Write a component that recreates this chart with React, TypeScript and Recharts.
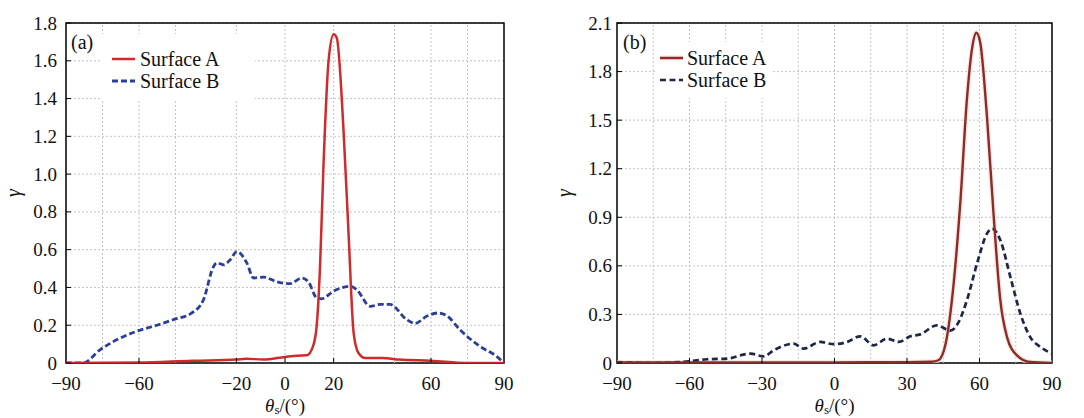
import React from "react";
import { LineChart, Line, XAxis, YAxis, CartesianGrid, ReferenceLine, ReferenceArea, Legend, Label } from "recharts";

// ---------- Panel (a) data ----------
const thetaA_a = [-90, -60, -38, -20, -16, -9, 0, 5, 9, 11.5, 13, 14.4, 15.8, 17.9, 20, 21.3, 24.1, 26.1, 28.2, 30.2, 33, 40, 47, 60, 75, 90];
const gammaA_a = [0, 0.002, 0.012, 0.018, 0.023, 0.018, 0.032, 0.039, 0.041, 0.088, 0.194, 0.51, 1.04, 1.6, 1.74, 1.72, 1.22, 0.69, 0.16, 0.053, 0.026, 0.026, 0.018, 0.012, 0, 0];
const thetaB_a = [-90, -83, -76, -61, -52.6, -45.8, -38.3, -33.5, -29.4, -28, -25.3, -22.5, -19.8, -15.7, -12.9, -8.8, -3.4, 2.1, 6.9, 9.6, 13.1, 15.1, 19.9, 26.8, 29.5, 35, 39.1, 43.2, 50, 53.5, 58.2, 63, 66.5, 71.9, 80.1, 87, 90];
const gammaB_a = [0, 0, 0.07, 0.168, 0.2, 0.23, 0.265, 0.335, 0.51, 0.53, 0.52, 0.547, 0.59, 0.53, 0.45, 0.455, 0.43, 0.42, 0.45, 0.43, 0.344, 0.34, 0.38, 0.406, 0.388, 0.3, 0.31, 0.31, 0.23, 0.21, 0.247, 0.265, 0.25, 0.176, 0.088, 0.035, 0];
const xTicks_a = [-90, -60, -20, 0, 20, 60, 90];
const xGrid_a = [-75, -60, -45, -20, 0, 20, 45, 60, 75];
const yTicks_a = [0, 0.2, 0.4, 0.6, 0.8, 1.0, 1.2, 1.4, 1.6, 1.8];

// ---------- Panel (b) data ----------
const thetaA_b = [-90, -30, 0, 30, 40, 43, 46, 49.3, 52.1, 54.8, 56.9, 58.7, 60.3, 63.1, 65.9, 68.6, 71.4, 75.5, 81, 90];
const gammaA_b = [0.003, 0.003, 0.004, 0.005, 0.008, 0.017, 0.12, 0.49, 1.0, 1.63, 1.94, 2.04, 1.98, 1.52, 0.9, 0.39, 0.16, 0.047, 0.006, 0];
const thetaB_b = [-90, -75.5, -60.3, -52.8, -44.5, -34.8, -29.3, -25.2, -19.7, -16.9, -12.8, -5.9, -0.3, 5.2, 10.7, 16.2, 21.7, 26.6, 31.4, 35.5, 42.4, 47.9, 51.4, 54.8, 59, 63.1, 65.2, 68.6, 72.8, 76.9, 81, 85.2, 90];
const gammaB_b = [0.006, 0, 0.01, 0.023, 0.027, 0.058, 0.041, 0.078, 0.113, 0.12, 0.089, 0.13, 0.116, 0.13, 0.165, 0.109, 0.15, 0.13, 0.165, 0.177, 0.233, 0.2, 0.254, 0.388, 0.615, 0.8, 0.83, 0.76, 0.53, 0.305, 0.16, 0.099, 0.058];
const xTicks_b = [-90, -60, -30, 0, 30, 60, 90];
const xGrid_b = [-75, -60, -45, -30, -15, 0, 15, 30, 45, 60, 75];
const yTicks_b = [0, 0.3, 0.6, 0.9, 1.2, 1.5, 1.8, 2.1];

const seriesNames = ["Surface A", "Surface B"];
const panelLabels = ["(a)", "(b)"];

const FONT = "'Liberation Serif', 'Times New Roman', 'DejaVu Serif', serif";
const zip = (xs: number[], ys: number[]) => xs.map((t, i) => ({ t, g: ys[i] }));
const fmtX = (v: number) => (v < 0 ? "\u2212" + Math.abs(v) : String(v));
const fmtY = (v: number) => (v === 0 ? "0" : v.toFixed(1));

type PanelProps = {
  width: number;
  height: number;
  plotLeft: number;
  plotRight: number;
  plotTop: number;
  plotBottom: number;
  yMax: number;
  yTicks: number[];
  xTicks: number[];
  xGrid: number[];
  a: { t: number; g: number }[];
  b: { t: number; g: number }[];
  colorA: string;
  colorB: string;
  halo?: string;
  widthA: number;
  widthB: number;
  dashB: string;
  label: string;
  yLabelGap: number;
  labelPos: { x: number; y: number };
  box: { x: number; y: number; w: number; h: number };
  sample: { x: number; y1: number; y2: number; textX: number };
};

const txtStyle = { fontFamily: FONT } as React.CSSProperties;

const Panel = (p: PanelProps) => {
  const Y_AXIS_W = 50;
  const X_AXIS_H = 30;
  const XTick = (props: any) => {
    const { x, payload } = props;
    const ay = p.plotBottom;
    const show = payload.value !== -90 && payload.value !== 90;
    return (
      <g>
        {show && <line x1={x} x2={x} y1={ay} y2={ay - 5} stroke="#000" strokeWidth={1} />}
        <text x={x} y={ay + 27} textAnchor="middle" style={txtStyle} fontSize={19} fill="#111">
          {fmtX(payload.value)}
        </text>
      </g>
    );
  };
  const YTick = (props: any) => {
    const { y, payload } = props;
    const ax = p.plotLeft;
    return (
      <g>
        <line x1={ax} x2={ax + 5} y1={y} y2={y} stroke="#000" strokeWidth={1} />
        <text x={ax - p.yLabelGap} y={y + 6.5} textAnchor="end" style={txtStyle} fontSize={19} fill="#111">
          {fmtY(payload.value)}
        </text>
      </g>
    );
  };
  const XTitle = (props: any) => {
    const vb = props.viewBox;
    const cx = vb.x + vb.width / 2;
    return (
      <text x={cx} y={p.plotBottom + 49} textAnchor="middle" style={txtStyle} fontSize={19} fill="#111">
        <tspan fontStyle="italic">θ</tspan>
        <tspan fontSize={13} dy={2}>s</tspan>
        <tspan dy={-2}>/(°)</tspan>
      </text>
    );
  };
  const YTitle = () => (
    <text
      x={p.plotLeft - 53}
      y={(p.plotTop + p.plotBottom) / 2}
      textAnchor="middle"
      style={txtStyle}
      fontSize={20}
      fontStyle="italic"
      fill="#111"
      transform={`rotate(-90 ${p.plotLeft - 53} ${(p.plotTop + p.plotBottom) / 2})`}
      dominantBaseline="central"
    >
      γ
    </text>
  );
  const LegendContent = () => (
    <div style={{ position: "relative", width: p.width, height: 110, fontFamily: FONT, pointerEvents: "none" }}>
      <div
        style={{
          position: "absolute",
          left: p.labelPos.x,
          top: p.labelPos.y - 11,
          fontSize: 20,
          lineHeight: "22px",
          color: "#111",
          fontFamily: FONT,
        }}
      >
        {p.label}
      </div>
      <div
        style={{
          position: "absolute",
          left: p.box.x,
          top: p.box.y,
          width: p.box.w,
          height: p.box.h,
          background: "#fff",
        }}
      />
      <svg style={{ position: "absolute", left: 0, top: 0 }} width={p.width} height={110}>
        {p.halo && (
          <line x1={p.sample.x} x2={p.sample.x + 23} y1={p.sample.y1} y2={p.sample.y1} stroke={p.halo} strokeWidth={5} />
        )}
        <line x1={p.sample.x} x2={p.sample.x + 23} y1={p.sample.y1} y2={p.sample.y1} stroke={p.colorA} strokeWidth={p.widthA} />
        <line
          x1={p.sample.x}
          x2={p.sample.x + 23}
          y1={p.sample.y2}
          y2={p.sample.y2}
          stroke={p.colorB}
          strokeWidth={p.widthB}
          strokeDasharray={p.dashB}
        />
        <text x={p.sample.textX} y={p.sample.y1 + 7} style={txtStyle} fontSize={20} fill="#111">
          {seriesNames[0]}
        </text>
        <text x={p.sample.textX} y={p.sample.y2 + 7} style={txtStyle} fontSize={20} fill="#111">
          {seriesNames[1]}
        </text>
      </svg>
    </div>
  );

  return (
    <LineChart
      width={p.width}
      height={p.height}
      margin={{
        top: p.plotTop,
        left: p.plotLeft - Y_AXIS_W,
        right: p.width - p.plotRight,
        bottom: p.height - p.plotBottom - X_AXIS_H,
      }}
    >
      <CartesianGrid vertical={false} stroke="#c4c4c4" strokeDasharray="2 2" />
      {p.xGrid.map((v) => (
        <ReferenceLine key={v} x={v} stroke="#c4c4c4" strokeDasharray="2 2" />
      ))}
      <XAxis
        dataKey="t"
        type="number"
        domain={[-90, 90]}
        ticks={p.xTicks}
        allowDataOverflow
        height={X_AXIS_H}
        axisLine={false}
        tickLine={false}
        tick={<XTick />}
        interval={0}
      >
        <Label content={<XTitle />} />
      </XAxis>
      <YAxis
        type="number"
        domain={[0, p.yMax]}
        ticks={p.yTicks}
        allowDataOverflow
        width={Y_AXIS_W}
        axisLine={false}
        tickLine={false}
        tick={<YTick />}
        interval={0}
      >
        <Label content={<YTitle />} />
      </YAxis>
      {p.halo && (
        <Line
          data={p.a}
          dataKey="g"
          type="monotone"
          dot={false}
          stroke={p.halo}
          strokeWidth={5}
          strokeOpacity={0.7}
          isAnimationActive={false}
          legendType="none"
        />
      )}
      <Line data={p.b} dataKey="g" type="monotone" dot={false} stroke={p.colorB} strokeWidth={p.widthB} strokeDasharray={p.dashB} isAnimationActive={false} />
      <Line data={p.a} dataKey="g" type="monotone" dot={false} stroke={p.colorA} strokeWidth={p.widthA} isAnimationActive={false} />
      <ReferenceArea x1={-90} x2={90} y1={0} y2={p.yMax} fill="none" stroke="#000" strokeWidth={1.5} fillOpacity={0} />
      <Legend
        layout="vertical"
        align="center"
        verticalAlign="middle"
        content={<LegendContent />}
        wrapperStyle={{ left: 0, top: 0, width: p.width, height: 110, pointerEvents: "none" }}
      />
    </LineChart>
  );
};

export default function App() {
  return (
    <div style={{ position: "absolute", left: 0, top: 0, width: 1084, height: 418, background: "#fff", overflow: "hidden" }}>
      <div style={{ position: "absolute", left: 0, top: 0 }}>
        <Panel
          width={540}
          height={418}
          plotLeft={66}
          plotRight={504}
          plotTop={23}
          plotBottom={363}
          yMax={1.8}
          yTicks={yTicks_a}
          xTicks={xTicks_a}
          xGrid={xGrid_a}
          a={zip(thetaA_a, gammaA_a)}
          b={zip(thetaB_a, gammaB_a)}
          colorA="#d02a2a"
          colorB="#2c3f98"
          widthA={2.5}
          widthB={2.8}
          dashB="6 3"
          label={panelLabels[0]}
          yLabelGap={9}
          labelPos={{ x: 71, y: 42 }}
          box={{ x: 100, y: 34, w: 155, h: 66 }}
          sample={{ x: 112, y1: 59, y2: 81, textX: 140 }}
        />
      </div>
      <div style={{ position: "absolute", left: 540, top: 0 }}>
        <Panel
          width={544}
          height={418}
          plotLeft={77}
          plotRight={512}
          plotTop={23}
          plotBottom={363}
          yMax={2.1}
          yTicks={yTicks_b}
          xTicks={xTicks_b}
          xGrid={xGrid_b}
          a={zip(thetaA_b, gammaA_b)}
          b={zip(thetaB_b, gammaB_b)}
          colorA="#8e2b25"
          colorB="#1f2747"
          halo="#f6dedb"
          widthA={2.4}
          widthB={2.7}
          dashB="6 3.5"
          label={panelLabels[1]}
          yLabelGap={5}
          labelPos={{ x: 83, y: 42 }}
          box={{ x: 116, y: 42, w: 115, h: 56 }}
          sample={{ x: 120, y1: 58, y2: 80, textX: 147 }}
        />
      </div>
    </div>
  );
}
